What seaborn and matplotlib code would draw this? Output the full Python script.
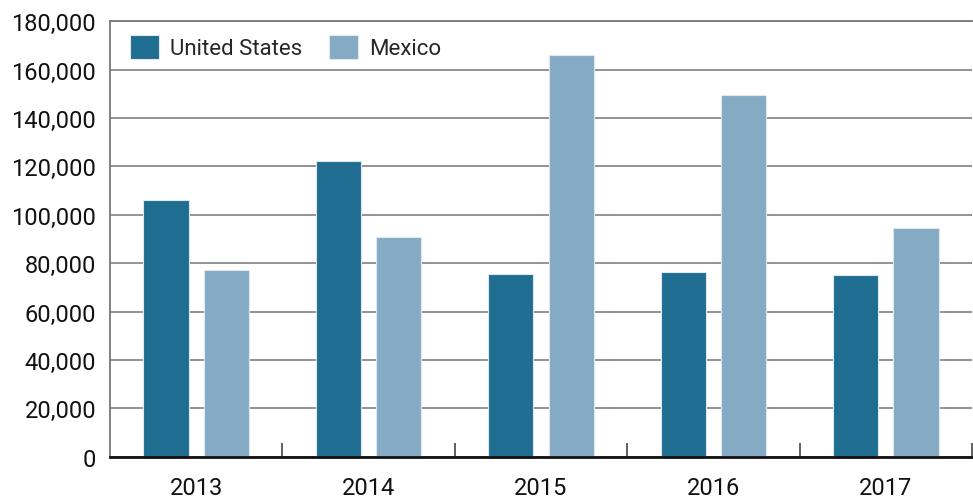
import matplotlib
matplotlib.use("Agg")
import matplotlib.pyplot as plt
from matplotlib.ticker import FuncFormatter, FixedLocator
import seaborn as sns
import pandas as pd

years = ["2013", "2014", "2015", "2016", "2017"]
us_values = [106000, 122000, 75500, 76500, 75000]
mexico_values = [77000, 91000, 166000, 149500, 94500]
series_names = ["United States", "Mexico"]
colors = ["#1f6e91", "#84aac4"]

df = pd.DataFrame({
    "year": years * 2,
    "value": us_values + mexico_values,
    "country": [series_names[0]] * len(years) + [series_names[1]] * len(years),
})

sns.set_style("white")
plt.rcParams["font.family"] = ["Roboto", "DejaVu Sans"]

fig = plt.figure(figsize=(9.73, 5.02), dpi=100)
ax = fig.add_axes([0.113, 0.088, 0.886, 0.868])

sns.barplot(data=df, x="year", y="value", hue="country", palette=colors,
            saturation=1, width=0.7, gap=0.25, edgecolor="#dde8f0", linewidth=0.8,
            ax=ax, zorder=3)

ax.set_ylim(0, 180000)
ax.set_xlim(-0.5, 4.5)
ax.set_yticks(range(0, 180001, 20000))
ax.yaxis.set_major_formatter(FuncFormatter(lambda v, p: f"{int(v):,}"))
ax.grid(axis="y", color="#8a8a8a", linewidth=1.3, zorder=0)
ax.set_xlabel("")
ax.set_ylabel("")

ax.tick_params(axis="y", length=0, labelsize=17, pad=10, labelcolor="#111111")
ax.tick_params(axis="x", which="major", length=0, labelsize=17, pad=14, labelcolor="#111111")
ax.xaxis.set_minor_locator(FixedLocator([0.5, 1.5, 2.5, 3.5, 4.5]))
ax.tick_params(axis="x", which="minor", bottom=True, direction="in", length=10,
               width=1.2, color="#444444")

for s in ["left", "top"]:
    ax.spines[s].set_color("#777777")
    ax.spines[s].set_linewidth(1.3)
ax.spines["right"].set_visible(False)
ax.spines["bottom"].set_color("#111111")
ax.spines["bottom"].set_linewidth(2)
ax.spines["bottom"].set_zorder(5)

ax.legend(loc="upper left", bbox_to_anchor=(0.0, 1.015), ncol=2, frameon=False,
          fontsize=16, handlelength=1.3, handleheight=1.3, columnspacing=1.2,
          handletextpad=0.5, title=None)

fig.savefig("out.png", dpi=100)
